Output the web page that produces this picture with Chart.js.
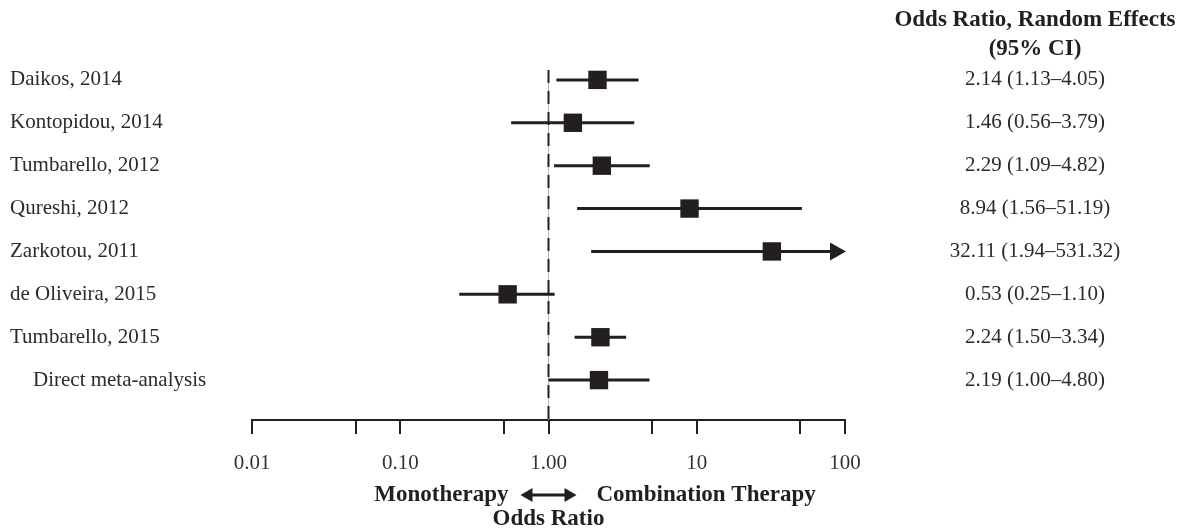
<!DOCTYPE html>
<html>
<head>
<meta charset="utf-8">
<script src="https://cdn.jsdelivr.net/npm/chart.js@4.4.1/dist/chart.umd.min.js"></script>
<style>
  html, body { margin: 0; padding: 0; background: #ffffff; }
  #wrap { width: 1186px; height: 529px; position: relative; }
</style>
</head>
<body>
<div id="wrap"><canvas id="forest"></canvas></div>
<script>
const studyLabels = [
  "Daikos, 2014",
  "Kontopidou, 2014",
  "Tumbarello, 2012",
  "Qureshi, 2012",
  "Zarkotou, 2011",
  "de Oliveira, 2015",
  "Tumbarello, 2015",
  "Direct meta-analysis"
];
const oddsRatios = [2.14, 1.46, 2.29, 8.94, 32.11, 0.53, 2.24, 2.19];
const ciLow = [1.13, 0.56, 1.09, 1.56, 1.94, 0.25, 1.50, 1.00];
const ciHigh = [4.05, 3.79, 4.82, 51.19, 531.32, 1.10, 3.34, 4.80];
const tickValues = [0.01, 0.05, 0.1, 0.5, 1, 5, 10, 50, 100];
const tickLabels = ["0.01", "", "0.10", "", "1.00", "", "10", "", "100"];

const INK = "#231f20";
const TEXT = "#2b2b2b";
const SERIF = '"Liberation Serif", "Times New Roman", serif';
const X_MIN = 0.01;
const X_MAX = 100;

function ciText(i) {
  return `${oddsRatios[i].toFixed(2)} (${ciLow[i].toFixed(2)}\u2013${ciHigh[i].toFixed(2)})`;
}

const forestDecor = {
  id: "forestDecor",
  beforeDatasetsDraw(chart) {
    const { ctx } = chart;
    const xs = chart.scales.x;
    const ys = chart.scales.y;
    const x1 = xs.getPixelForValue(1);
    const top = ys.getPixelForValue(-0.23);
    const bottom = chart.chartArea.bottom;

    ctx.save();
    // reference line at OR = 1
    ctx.strokeStyle = "#b8b8b8";
    ctx.lineWidth = 1;
    ctx.beginPath();
    ctx.moveTo(x1, top);
    ctx.lineTo(x1, bottom);
    ctx.stroke();
    ctx.strokeStyle = INK;
    ctx.lineWidth = 2;
    ctx.setLineDash([13, 8]);
    ctx.beginPath();
    ctx.moveTo(x1, top);
    ctx.lineTo(x1, bottom);
    ctx.stroke();
    ctx.setLineDash([]);

    // confidence intervals
    ctx.strokeStyle = INK;
    ctx.fillStyle = INK;
    ctx.lineWidth = 3;
    studyLabels.forEach((_, i) => {
      const y = ys.getPixelForValue(i);
      const xa = xs.getPixelForValue(Math.max(ciLow[i], X_MIN));
      const clipped = ciHigh[i] > X_MAX;
      const xb = xs.getPixelForValue(Math.min(ciHigh[i], X_MAX));
      ctx.beginPath();
      ctx.moveTo(xa, y);
      ctx.lineTo(clipped ? xb - 10 : xb, y);
      ctx.stroke();
      if (clipped) {
        ctx.beginPath();
        ctx.moveTo(xb + 1, y);
        ctx.lineTo(xb - 15, y - 9);
        ctx.lineTo(xb - 15, y + 9);
        ctx.closePath();
        ctx.fill();
      }
    });
    ctx.restore();
  },
  afterDraw(chart) {
    const { ctx } = chart;
    const xs = chart.scales.x;
    const ys = chart.scales.y;
    const x1 = xs.getPixelForValue(1);
    const colX = 1035;

    ctx.save();
    ctx.fillStyle = TEXT;
    ctx.textBaseline = "middle";

    // study names
    ctx.font = `21px ${SERIF}`;
    ctx.textAlign = "left";
    studyLabels.forEach((lab, i) => {
      const y = ys.getPixelForValue(i);
      ctx.fillText(lab, i === studyLabels.length - 1 ? 33 : 10, y);
    });

    // OR column
    ctx.textAlign = "center";
    studyLabels.forEach((_, i) => {
      ctx.fillText(ciText(i), colX, ys.getPixelForValue(i));
    });

    ctx.fillStyle = INK;
    ctx.font = `bold 23px ${SERIF}`;
    ctx.fillText("Odds Ratio, Random Effects", colX, 20);
    ctx.fillText("(95% CI)", colX, 49);

    // direction labels
    const yDir = 495;
    ctx.font = `bold 23px ${SERIF}`;
    ctx.textAlign = "right";
    ctx.fillText("Monotherapy", x1 - 40, yDir);
    ctx.textAlign = "left";
    ctx.fillText("Combination Therapy", x1 + 48, yDir);
    ctx.textAlign = "center";
    ctx.fillText("Odds Ratio", x1, 519);

    // double arrow
    const ax0 = x1 - 28;
    const ax1 = x1 + 28;
    ctx.strokeStyle = INK;
    ctx.lineWidth = 3;
    ctx.beginPath();
    ctx.moveTo(ax0 + 8, yDir);
    ctx.lineTo(ax1 - 8, yDir);
    ctx.stroke();
    ctx.beginPath();
    ctx.moveTo(ax0, yDir);
    ctx.lineTo(ax0 + 12, yDir - 7);
    ctx.lineTo(ax0 + 12, yDir + 7);
    ctx.closePath();
    ctx.fill();
    ctx.beginPath();
    ctx.moveTo(ax1, yDir);
    ctx.lineTo(ax1 - 12, yDir - 7);
    ctx.lineTo(ax1 - 12, yDir + 7);
    ctx.closePath();
    ctx.fill();
    ctx.restore();
  }
};

new Chart(document.getElementById("forest"), {
  type: "scatter",
  data: {
    datasets: [
      {
        label: "Odds Ratio",
        data: oddsRatios.map((v, i) => ({ x: v, y: i })),
        pointStyle: "rect",
        pointRadius: 13,
        pointHoverRadius: 13,
        backgroundColor: INK,
        borderColor: INK,
        borderWidth: 0,
        clip: false
      }
    ]
  },
  options: {
    responsive: true,
    maintainAspectRatio: false,
    animation: false,
    events: [],
    layout: {
      padding: { left: 252, right: 341, top: 37, bottom: 0 }
    },
    plugins: {
      legend: { display: false },
      tooltip: { enabled: false }
    },
    scales: {
      x: {
        type: "logarithmic",
        min: X_MIN,
        max: X_MAX,
        afterBuildTicks: (scale) => {
          scale.ticks = tickValues.map((v) => ({ value: v }));
        },
        afterFit: (scale) => {
          scale.height = 109;
        },
        grid: {
          drawOnChartArea: false,
          drawTicks: true,
          tickLength: 14,
          color: INK,
          lineWidth: 2
        },
        border: { display: true, color: INK, width: 2 },
        ticks: {
          autoSkip: false,
          maxRotation: 0,
          padding: 17,
          color: "#333333",
          font: { family: SERIF, size: 21 },
          callback: (v, i) => tickLabels[i]
        }
      },
      y: {
        type: "linear",
        min: -1,
        max: 7.93,
        reverse: true,
        display: false
      }
    }
  },
  plugins: [forestDecor]
});
</script>
</body>
</html>
